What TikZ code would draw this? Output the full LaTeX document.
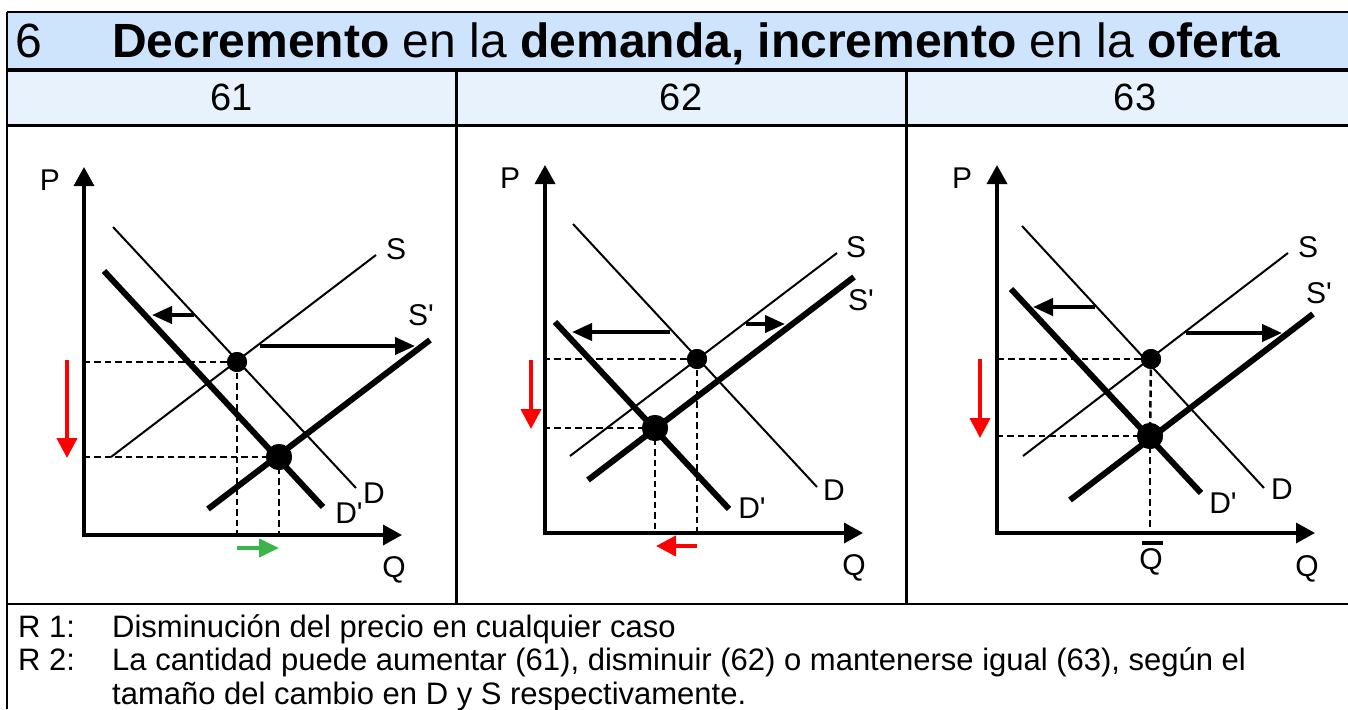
\documentclass[tikz,border=0pt]{standalone}
\usepackage{fontspec}
\setmainfont{Liberation Sans}[Ligatures=TeXOff]
\usetikzlibrary{arrows.meta}
\definecolor{titlebg}{RGB}{206,228,252}
\definecolor{headbg}{RGB}{231,242,253}
\definecolor{arrred}{RGB}{255,0,0}
\definecolor{arrgreen}{RGB}{57,181,74}
\newcommand{\pr}{'}
\begin{document}
\begin{tikzpicture}[x=1pt,y=-1pt,
  thinline/.style={line width=2pt},
  thickline/.style={line width=6pt},
  axis/.style={line width=3.5pt,line join=miter,{Triangle[length=19pt,width=20pt]}-{Triangle[length=19pt,width=20pt]}},
  guide/.style={line width=2.5pt,dash pattern=on 6.5pt off 4pt},
  shiftarrow/.style={line width=4pt,-{Triangle[length=20pt,width=17pt]}},
  redarrow/.style={line width=4pt,draw=arrred,-{Triangle[length=20pt,width=20pt,fill=arrred]}},
  greenarrow/.style={line width=4pt,draw=arrgreen,-{Triangle[length=20pt,width=18pt,fill=arrgreen]}},
  lbl/.style={font=\fontsize{30}{32}\selectfont,inner sep=0pt},
  headnum/.style={font=\fontsize{38}{42}\selectfont,inner sep=0pt},
  bodytext/.style={font=\fontsize{31}{34}\selectfont,inner sep=0pt,anchor=base west},
  dotsmall/.style={circle,fill=black,minimum size=20pt,inner sep=0pt},
  dotbig/.style={circle,fill=black,minimum size=26pt,inner sep=0pt},
  rule/.style={line width=#1},
]
\useasboundingbox (0,0) rectangle (1348,709);
% table
\fill[titlebg] (7,12) rectangle (1348,70);
\fill[headbg] (7,70) rectangle (1348,125);
\draw[rule=1.5pt] (7,12) -- (1348,12);
\draw[rule=2pt] (7,12) -- (7,709);
\draw[rule=4pt] (7,70) -- (1348,70);
\draw[rule=3pt] (7,125) -- (1348,125);
\draw[rule=2pt] (7,604) -- (1348,604);
\draw[rule=3.5pt] (456.5,70) -- (456.5,604);
\draw[rule=3.5pt] (906.5,70) -- (906.5,604);
% title
\node[font=\fontsize{48}{52}\selectfont,inner sep=0pt,anchor=base west] (tnum) at (15,58) {6};
\node[font=\fontsize{48}{52}\selectfont,inner sep=0pt,anchor=base west] (ttext) at (112,58) {\textbf{Decremento} en la \textbf{demanda, incremento} en la \textbf{oferta}};
\node[headnum] (h61) at (232,97) {61};
\node[headnum] (h62) at (681,97) {62};
\node[headnum] (h63) at (1135,97) {63};

% ================= Panel 61
\coordinate (o1) at (84,535);
\coordinate (pt1) at (84,167);
\coordinate (qt1) at (402,535);
\draw[axis] (pt1) -- (o1) -- (qt1);
\node[lbl] (P1) at (50,180) {P};
\node[lbl] (Q1) at (394,570) {Q};
\coordinate (Da1) at (113,227); \coordinate (Db1) at (356,488);
\coordinate (Sa1) at (111,457); \coordinate (Sb1) at (376,255);
\coordinate (Dpa1) at (104,271); \coordinate (Dpb1) at (323,507);
\coordinate (Spa1) at (208,509); \coordinate (Spb1) at (430,340);
\node[dotsmall] (E1a) at (237,362) {};
\node[dotbig] (E1b) at (279,457) {};
\draw[guide] (E1a.center) -- (E1a.center -| o1);
\draw[guide] (E1b.center) -- (E1b.center -| o1);
\draw[guide] (E1a.center) -- (E1a.center |- o1);
\draw[guide] (E1b.center) -- (E1b.center |- o1);
\draw[thinline] (Da1) -- (Db1);
\draw[thinline] (Sa1) -- (Sb1);
\draw[thickline] (Dpa1) -- (Dpb1);
\draw[thickline] (Spa1) -- (Spb1);
\node[dotsmall] at (E1a) {};
\node[dotbig] at (E1b) {};
\node[lbl] (S1) at (396,249) {S};
\node[lbl] (Sp1) at (421,315) {S\pr};
\node[lbl] (D1) at (374,493) {D};
\node[lbl] (Dp1) at (349,513) {D\pr};
\coordinate (ad1s) at (194,315); \coordinate (ad1e) at (152,315);
\draw[shiftarrow] (ad1s) -- (ad1e);
\coordinate (as1s) at (260,346); \coordinate (as1e) at (415,346);
\draw[shiftarrow] (as1s) -- (as1e);
\coordinate (rp1s) at (67,360); \coordinate (rp1e) at (67,458);
\draw[redarrow] (rp1s) -- (rp1e);
\coordinate (gq1s) at (237,548); \coordinate (gq1e) at (279,548);
\draw[greenarrow] (gq1s) -- (gq1e);

% ================= Panel 62
\coordinate (o2) at (545,533);
\coordinate (pt2) at (545,165);
\coordinate (qt2) at (863,533);
\draw[axis] (pt2) -- (o2) -- (qt2);
\node[lbl] (P2) at (510,178) {P};
\node[lbl] (Q2) at (854,568) {Q};
\coordinate (Da2) at (573,224); \coordinate (Db2) at (817,487);
\coordinate (Sa2) at (570,456); \coordinate (Sb2) at (837,253);
\coordinate (Dpa2) at (555,322); \coordinate (Dpb2) at (729,509);
\coordinate (Spa2) at (588,480); \coordinate (Spb2) at (854,277);
\node[dotsmall] (E2a) at (697,359) {};
\node[dotbig] (E2b) at (655,428) {};
\draw[guide] (E2a.center) -- (E2a.center -| o2);
\draw[guide] (E2b.center) -- (E2b.center -| o2);
\draw[guide] (E2a.center) -- (E2a.center |- o2);
\draw[guide] (E2b.center) -- (E2b.center |- o2);
\draw[thinline] (Da2) -- (Db2);
\draw[thinline] (Sa2) -- (Sb2);
\draw[thickline] (Dpa2) -- (Dpb2);
\draw[thickline] (Spa2) -- (Spb2);
\node[dotsmall] at (E2a) {};
\node[dotbig] at (E2b) {};
\node[lbl] (S2) at (856,247) {S};
\node[lbl] (Sp2) at (861,300) {S\pr};
\node[lbl] (D2) at (834,490) {D};
\node[lbl] (Dp2) at (752,508) {D\pr};
\coordinate (ad2s) at (670,332); \coordinate (ad2e) at (572,332);
\draw[shiftarrow] (ad2s) -- (ad2e);
\coordinate (as2s) at (746,324); \coordinate (as2e) at (785,324);
\draw[shiftarrow] (as2s) -- (as2e);
\coordinate (rp2s) at (531,360); \coordinate (rp2e) at (531,429);
\draw[redarrow] (rp2s) -- (rp2e);
\coordinate (rq2s) at (697,546); \coordinate (rq2e) at (656,546);
\draw[redarrow] (rq2s) -- (rq2e);

% ================= Panel 63
\coordinate (o3) at (997,533);
\coordinate (pt3) at (997,165);
\coordinate (qt3) at (1315,533);
\draw[axis] (pt3) -- (o3) -- (qt3);
\node[lbl] (P3) at (962,178) {P};
\node[lbl] (Q3) at (1307,569) {Q};
\node[lbl] (Qbar3) at (1151,562) {Q};
\coordinate (qb3a) at (1142,543); \coordinate (qb3b) at (1163,543);
\draw[line width=3.5pt] (qb3a) -- (qb3b);
\coordinate (Da3) at (1022,226); \coordinate (Db3) at (1264,488);
\coordinate (Sa3) at (1023,456); \coordinate (Sb3) at (1288,253);
\coordinate (Dpa3) at (1011,289); \coordinate (Dpb3) at (1201,493);
\coordinate (Spa3) at (1070,500); \coordinate (Spb3) at (1313,314);
\node[dotsmall] (E3a) at (1151,359) {};
\node[dotbig] (E3b) at (1150,436) {};
\draw[guide] (E3a.center) -- (E3a.center -| o3);
\draw[guide] (E3b.center) -- (E3b.center -| o3);
\draw[guide] (E3b.center) -- (E3b.center |- o3);
\draw[guide] (E3a.center) -- (E3b.center);
\draw[thinline] (Da3) -- (Db3);
\draw[thinline] (Sa3) -- (Sb3);
\draw[thickline] (Dpa3) -- (Dpb3);
\draw[thickline] (Spa3) -- (Spb3);
\node[dotsmall] at (E3a) {};
\node[dotbig] at (E3b) {};
\node[lbl] (S3) at (1308,247) {S};
\node[lbl] (Sp3) at (1319,293) {S\pr};
\node[lbl] (D3) at (1282,489) {D};
\node[lbl] (Dp3) at (1223,503) {D\pr};
\coordinate (ad3s) at (1095,307); \coordinate (ad3e) at (1033,307);
\draw[shiftarrow] (ad3s) -- (ad3e);
\coordinate (as3s) at (1186,333); \coordinate (as3e) at (1282,333);
\draw[shiftarrow] (as3s) -- (as3e);
\coordinate (rp3s) at (980,359); \coordinate (rp3e) at (980,438);
\draw[redarrow] (rp3s) -- (rp3e);

% ================= bottom text
\node[bodytext] (r1) at (18,637) {R 1:};
\node[bodytext] (r1t) at (112,637) {Disminución del precio en cualquier caso};
\node[bodytext] (r2) at (18,670) {R 2:};
\node[bodytext] (r2t) at (112,670) {La cantidad puede aumentar (61), disminuir (62) o mantenerse igual (63), según el};
\node[bodytext] (r3t) at (112,704) {tamaño del cambio en D y S respectivamente.};
\end{tikzpicture}
\end{document}
